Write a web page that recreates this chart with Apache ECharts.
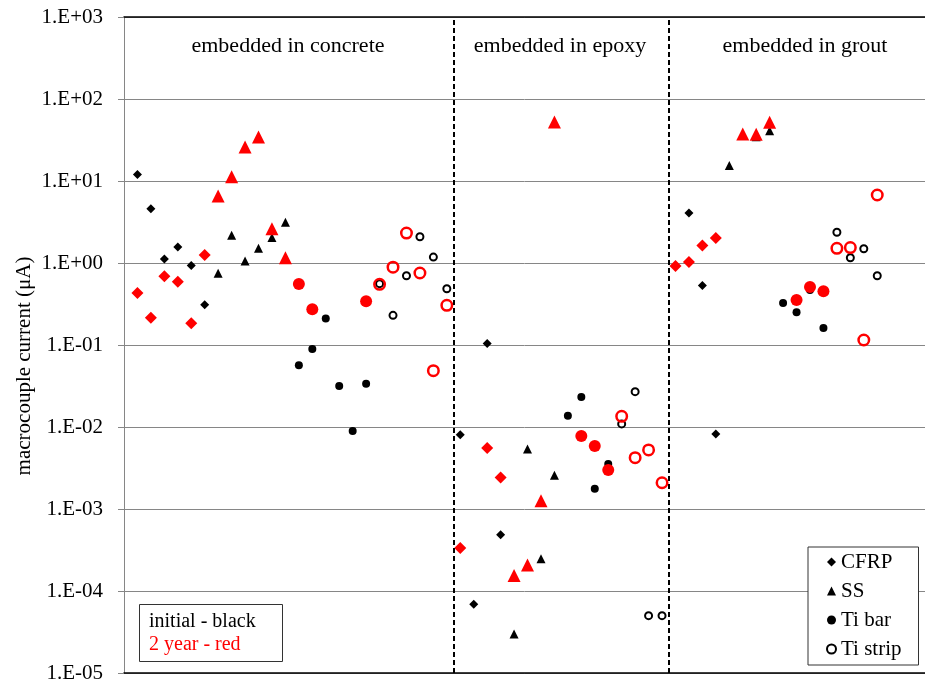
<!DOCTYPE html>
<html>
<head>
<meta charset="utf-8">
<script src="https://cdn.jsdelivr.net/npm/echarts@6/dist/echarts.min.js"></script>
<style>
  html, body { margin: 0; padding: 0; background: #fff; }
  #chart { width: 925px; height: 687px; }
</style>
</head>
<body>
<div id="chart"></div>
<script>
// Specimen slots: concrete 1-24, epoxy 25-40, grout 41-56
const cfrpX = [1, 2, 3, 4, 5, 6, 25, 26, 27, 28, 41, 42, 43, 44];
const cfrpInitial = [12, 4.6, 1.12, 1.57, 0.93, 0.31, 0.00805, 6.9e-5, 0.104, 0.000486, null, 4.07, 0.53, 0.0082];
const cfrp2yr = [0.43, 0.215, 0.69, 0.59, 0.184, 1.25, 0.000334, null, 0.00554, 0.00243, 0.92, 1.03, 1.63, 2.02];

const ssX = [7, 8, 9, 10, 11, 12, 29, 30, 31, 32, 45, 46, 47, 48];
const ssInitial = [0.75, 2.18, 1.06, 1.51, 2.04, 3.13, 3.0e-5, 0.0054, 0.000248, 0.00258, 15.4, null, 34.7, 41];
const ss2yr = [6.56, 11.3, 26, 34.4, 2.62, 1.16, 0.000154, 0.000208, 0.00126, 52.4, null, 37.4, 37.2, 52];

const tiBarX = [13, 14, 15, 16, 17, 18, 33, 34, 35, 36, 49, 50, 51, 52];
const tiBarInitial = [0.0565, 0.0893, 0.211, 0.0316, 0.00893, 0.0337, 0.0137, 0.0232, 0.00177, 0.00354, 0.325, 0.25, 0.469, 0.161];
const tiBar2yr = [0.555, 0.272, null, null, null, 0.341, null, 0.00776, 0.00586, 0.00299, null, 0.354, 0.51, 0.452];

const tiStripX = [19, 20, 21, 22, 23, 24, 37, 38, 39, 40, 53, 54, 55, 56];
const tiStripInitial = [0.56, 0.23, 0.70, 2.09, 1.18, 0.486, 0.0109, 0.027, 5.0e-5, 5.0e-5, 2.37, 1.16, 1.49, 0.70];
const tiStrip2yr = [0.55, 0.89, 2.32, 0.755, 0.0486, 0.305, 0.0135, 0.00423, 0.00525, 0.00209, 1.51, 1.54, 0.115, 6.75];

// group boundaries and headings
const groupDividers = [24.5, 40.5];
const groupTitles = ['embedded in concrete', 'embedded in epoxy', 'embedded in grout'];
const groupTitleX = [288, 560, 805];

const yTickLabels = ['1.E-05', '1.E-04', '1.E-03', '1.E-02', '1.E-01', '1.E+00', '1.E+01', '1.E+02', '1.E+03'];
const yMinExp = -5;

const FONT = 'Liberation Serif, Times New Roman, serif';
const RED = '#ff0000';
const BLACK = '#000000';

function pairs(xs, ys) {
  const out = [];
  xs.forEach((x, i) => { if (ys[i] != null) out.push([x, ys[i]]); });
  return out;
}

const chart = echarts.init(document.getElementById('chart'), null, { renderer: 'canvas' });

const option = {
  backgroundColor: '#fff',
  animation: false,
  grid: { left: 124, right: 0, top: 17, bottom: 14, containLabel: false },
  xAxis: [
    {
      type: 'value', min: 0, max: 59.55, position: 'bottom',
      axisLine: { show: true, lineStyle: { color: BLACK, width: 1.5 } },
      axisTick: { show: false }, axisLabel: { show: false }, splitLine: { show: false }
    },
    {
      type: 'value', min: 0, max: 59.55, position: 'top',
      axisLine: { show: true, onZero: false, lineStyle: { color: BLACK, width: 1.5 } },
      axisTick: { show: false }, axisLabel: { show: false }, splitLine: { show: false }
    }
  ],
  yAxis: {
    type: 'log', logBase: 10, min: 1e-5, max: 1e3,
    name: 'macrocouple current (μA)',
    nameLocation: 'middle', nameGap: 89, nameMoveOverlap: false,
    nameTextStyle: { fontFamily: FONT, fontSize: 21, color: BLACK, padding: [0, 42, 0, 0] },
    axisLine: { show: true, lineStyle: { color: '#868686', width: 1 } },
    axisTick: { show: true, inside: false, length: 6, lineStyle: { color: '#868686' } },
    axisLabel: {
      fontFamily: FONT, fontSize: 21, color: BLACK, margin: 21,
      formatter: v => yTickLabels[Math.round(Math.log10(v)) - yMinExp]
    },
    splitLine: { show: true, lineStyle: { color: '#868686', width: 1 } }
  },
  legend: {
    orient: 'vertical',
    left: 808, top: 547,
    data: ['CFRP', 'SS', 'Ti bar', 'Ti strip'],
    backgroundColor: '#fff',
    borderColor: '#333', borderWidth: 1,
    padding: [4, 17, 5, 18],
    itemWidth: 9, itemHeight: 9, itemGap: 7,
    textStyle: { fontFamily: FONT, fontSize: 21, color: BLACK, lineHeight: 22 }
  },
  title: {
    text: '{a|initial - black}\n{b|2 year - red}',
    left: 139, top: 603,
    padding: [7, 27, 7, 10],
    borderColor: '#333', borderWidth: 1,
    backgroundColor: '#fff',
    textStyle: {
      fontWeight: 'normal',
      rich: {
        a: { fontFamily: FONT, fontSize: 20, fontWeight: 'normal', color: BLACK, lineHeight: 23 },
        b: { fontFamily: FONT, fontSize: 20, fontWeight: 'normal', color: RED, lineHeight: 23 }
      }
    }
  },
  graphic: groupTitles.map((t, i) => ({
    type: 'text', x: groupTitleX[i], y: 46,
    style: { text: t, fontFamily: FONT, fontSize: 22, fill: BLACK, align: 'center', verticalAlign: 'middle' }
  })),
  series: [
    {
      name: 'CFRP', type: 'scatter', symbol: 'diamond', symbolSize: 9,
      itemStyle: { color: BLACK, opacity: 1 }, data: pairs(cfrpX, cfrpInitial),
      markLine: {
        silent: true, symbol: 'none', label: { show: false },
        lineStyle: { color: BLACK, type: [5, 3], width: 2, opacity: 1 },
        data: groupDividers.map(x => ({ xAxis: x }))
      }
    },
    { name: 'SS', type: 'scatter', symbol: 'triangle', symbolSize: 9, itemStyle: { color: BLACK, opacity: 1 }, data: pairs(ssX, ssInitial) },
    { name: 'Ti bar', type: 'scatter', symbol: 'circle', symbolSize: 8, itemStyle: { color: BLACK, opacity: 1 }, data: pairs(tiBarX, tiBarInitial) },
    {
      name: 'Ti strip', type: 'scatter', symbol: 'circle', symbolSize: 7,
      itemStyle: { color: 'rgba(0,0,0,0)', borderColor: BLACK, borderWidth: 2, opacity: 1 }, data: pairs(tiStripX, tiStripInitial)
    },
    { name: 'CFRP 2 year', type: 'scatter', symbol: 'diamond', symbolSize: 12, itemStyle: { color: RED, opacity: 1 }, data: pairs(cfrpX, cfrp2yr) },
    { name: 'SS 2 year', type: 'scatter', symbol: 'triangle', symbolSize: 13, itemStyle: { color: RED, opacity: 1 }, data: pairs(ssX, ss2yr) },
    { name: 'Ti bar 2 year', type: 'scatter', symbol: 'circle', symbolSize: 12, itemStyle: { color: RED, opacity: 1 }, data: pairs(tiBarX, tiBar2yr) },
    {
      name: 'Ti strip 2 year', type: 'scatter', symbol: 'circle', symbolSize: 10.5,
      itemStyle: { color: 'rgba(0,0,0,0)', borderColor: RED, borderWidth: 2.5, opacity: 1 }, data: pairs(tiStripX, tiStrip2yr)
    }
  ]
};

chart.setOption(option);
</script>
</body>
</html>
